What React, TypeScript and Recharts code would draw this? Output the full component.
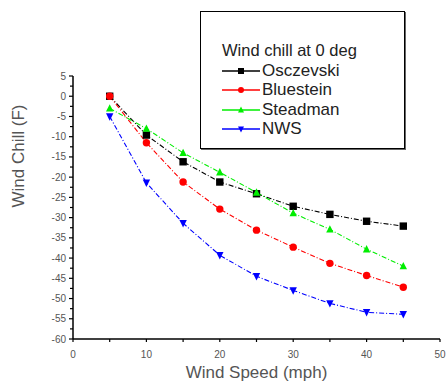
import React from 'react';
import { LineChart, Line, XAxis, YAxis } from 'recharts';

const speeds = [5, 10, 15, 20, 25, 30, 35, 40, 45];
const osczevski = [0, -9.6, -16.2, -21.2, -24.1, -27.2, -29.2, -30.9, -32.1];
const bluestein = [0, -11.5, -21.2, -27.9, -33.1, -37.3, -41.3, -44.3, -47.2];
const steadman = [-3, -8, -14, -18.8, -23.8, -28.9, -32.9, -37.8, -42];
const nws = [-5, -21.4, -31.4, -39.3, -44.5, -48, -51.2, -53.4, -53.9];

const xTicks = [0, 5, 10, 15, 20, 25, 30, 35, 40, 45, 50];
const yTicks = [5, 2.5, 0, -2.5, -5, -7.5, -10, -12.5, -15, -17.5, -20, -22.5, -25, -27.5, -30, -32.5, -35, -37.5, -40, -42.5, -45, -47.5, -50, -52.5, -55, -57.5, -60];

const data = speeds.map((s, i) => ({
  speed: s,
  osczevski: osczevski[i],
  bluestein: bluestein[i],
  steadman: steadman[i],
  nws: nws[i],
}));

const series = [
  { key: 'osczevski', name: 'Osczevski', color: '#000000', shape: 'square' },
  { key: 'bluestein', name: 'Bluestein', color: '#ff0000', shape: 'circle' },
  { key: 'steadman', name: 'Steadman', color: '#00ee00', shape: 'up' },
  { key: 'nws', name: 'NWS', color: '#0000ff', shape: 'down' },
];

const font = 'Liberation Sans, Arial, sans-serif';
const textColor = '#555';

function Marker({ cx, cy, shape, color, r = 3.7 }: any) {
  if (cx == null || cy == null) return null;
  if (shape === 'square') return <rect x={cx - r} y={cy - r} width={r * 2} height={r * 2} fill={color} />;
  if (shape === 'circle') return <circle cx={cx} cy={cy} r={r} fill={color} />;
  if (shape === 'up')
    return <polygon points={`${cx},${cy - r - 0.5} ${cx + r},${cy + r - 0.5} ${cx - r},${cy + r - 0.5}`} fill={color} />;
  return <polygon points={`${cx - r},${cy - r + 0.5} ${cx + r},${cy - r + 0.5} ${cx},${cy + r + 0.5}`} fill={color} />;
}

function XTick({ x, y, payload }: any) {
  const major = payload.value % 10 === 0;
  return (
    <g>
      <line x1={x} y1={y} x2={x} y2={y + 3} stroke="#000" strokeWidth={1.2} />
      {major && (
        <text x={x} y={y + 19} textAnchor="middle" fontSize={10} fill={textColor} fontFamily={font}>
          {payload.value}
        </text>
      )}
    </g>
  );
}

function YTick({ x, y, payload }: any) {
  const major = payload.value % 5 === 0;
  return (
    <g>
      <line x1={x - (major ? 4 : 3)} y1={y} x2={x} y2={y} stroke="#000" strokeWidth={1.2} />
      {major && (
        <text x={x - 7} y={y + 3.5} textAnchor="end" fontSize={10} fill={textColor} fontFamily={font}>
          {payload.value}
        </text>
      )}
    </g>
  );
}

function LegendBox() {
  return (
    <div
      style={{
        position: 'absolute',
        left: 200,
        top: 11,
        width: 205,
        height: 138,
        border: '1px solid #000',
        boxShadow: '1px 1px 0 #666',
        fontFamily: font,
        color: '#222',
        boxSizing: 'border-box',
        background: '#fff',
      }}
    >
      <div style={{ fontSize: 16.5, position: 'absolute', left: 21, top: 29, whiteSpace: 'nowrap' }}>Wind chill at 0 deg</div>
      {series.map((s, i) => (
        <div key={s.key} style={{ position: 'absolute', left: 21, top: 49 + i * 19.3, height: 20, display: 'flex', alignItems: 'center' }}>
          <svg width={38} height={12}>
            <line x1={0} y1={6} x2={38} y2={6} stroke={s.color} strokeWidth={1.3} />
            <Marker cx={19} cy={6} shape={s.shape} color={s.color} r={3} />
          </svg>
          <span style={{ fontSize: 17, marginLeft: 2, whiteSpace: 'nowrap' }}>{s.name}</span>
        </div>
      ))}
    </div>
  );
}

export default function App() {
  return (
    <div style={{ position: 'absolute', left: 0, top: 0, width: 447, height: 387, background: '#fff', fontFamily: font }}>
      <LineChart width={447} height={387} data={data} margin={{ top: 76, right: 7, bottom: 0, left: 0 }}>
        <XAxis
          dataKey="speed"
          type="number"
          domain={[0, 50]}
          ticks={xTicks}
          interval={0}
          tickLine={false}
          tickSize={0}
          tickMargin={0}
          tick={<XTick />}
          axisLine={{ stroke: '#000', strokeWidth: 1.5 }}
          height={48}
          label={{ value: 'Wind Speed (mph)', position: 'insideBottom', offset: 9, fontSize: 17, fill: textColor, fontFamily: font }}
        />
        <YAxis
          type="number"
          domain={[-60, 5]}
          ticks={yTicks}
          interval={0}
          tickLine={false}
          tickSize={0}
          tickMargin={0}
          tick={<YTick />}
          axisLine={{ stroke: '#000', strokeWidth: 1.5 }}
          width={73}
          label={{ value: 'Wind Chill (F)', angle: -90, position: 'insideLeft', offset: 18, fontSize: 17, fill: textColor, fontFamily: font }}
        />
        {series.map((s) => (
          <Line
            key={s.key}
            type="linear"
            dataKey={s.key}
            name={s.name}
            stroke={s.color}
            strokeWidth={1.1}
            strokeDasharray="5 2 1 2"
            isAnimationActive={false}
            dot={(p: any) => <Marker key={`${s.key}-${p.index}`} cx={p.cx} cy={p.cy} shape={s.shape} color={s.color} />}
            activeDot={false}
          />
        ))}
      </LineChart>
      <LegendBox />
    </div>
  );
}
